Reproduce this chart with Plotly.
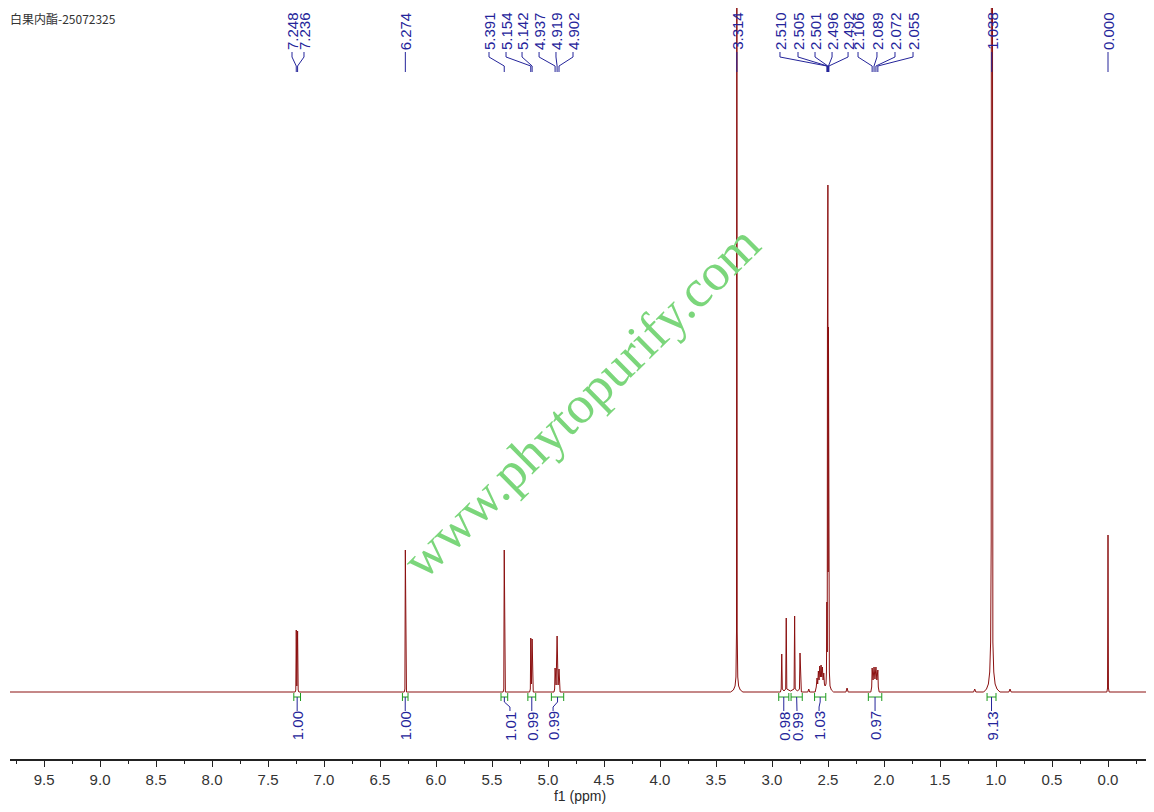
import plotly.graph_objects as go

# 1H NMR spectrum of bilobalide
title_text = "白果内酯-25072325"
watermark = "www.phytopurify.com"

# spectrum trace: chemical shift (ppm) and intensity, baseline = 0
spec_ppm = [
    9.804,
    7.258, 7.252, 7.248, 7.243, 7.236, 7.231, 7.225,
    6.284, 6.278, 6.274, 6.270, 6.264,
    5.401, 5.395, 5.391, 5.387, 5.381,
    5.164, 5.158, 5.154, 5.148, 5.142, 5.138, 5.132,
    4.947, 4.941, 4.937, 4.928, 4.919, 4.910, 4.902, 4.898, 4.892,
    3.370, 3.345, 3.330, 3.322, 3.317, 3.314, 3.311, 3.306, 3.298, 3.283, 3.260,
    2.925, 2.918, 2.913, 2.908, 2.893, 2.878, 2.873, 2.868, 2.835,
    2.803, 2.798, 2.793, 2.772, 2.755, 2.750, 2.745, 2.738,
    2.680, 2.672, 2.664,
    2.615, 2.605, 2.598, 2.592, 2.586, 2.580, 2.574, 2.568, 2.562, 2.556,
    2.550, 2.544, 2.538, 2.532, 2.526,
    2.518, 2.514, 2.510, 2.507, 2.505, 2.503, 2.501, 2.499, 2.496, 2.494,
    2.492, 2.488, 2.482, 2.470, 2.450,
    2.340, 2.330, 2.320,
    2.118, 2.110, 2.106, 2.098, 2.089, 2.081, 2.072, 2.064, 2.055, 2.051, 2.043,
    1.200, 1.190, 1.180,
    1.110, 1.085, 1.068, 1.056, 1.048, 1.043, 1.038, 1.033, 1.028, 1.020,
    1.008, 0.991, 0.965,
    0.885, 0.875, 0.865,
    0.010, 0.004, 0.000, -0.004, -0.010,
    -0.375,
]
spec_int = [
    0.0,
    0.0, 0.02, 0.62, 0.06, 0.61, 0.02, 0.0,
    0.0, 0.03, 1.42, 0.03, 0.0,
    0.0, 0.03, 1.42, 0.03, 0.0,
    0.0, 0.03, 0.54, 0.08, 0.53, 0.03, 0.0,
    0.0, 0.03, 0.24, 0.07, 0.56, 0.07, 0.23, 0.03, 0.0,
    0.0, 0.02, 0.06, 0.15, 0.6, 12.0, 0.6, 0.15, 0.06, 0.02, 0.0,
    0.0, 0.03, 0.38, 0.03, 0.01, 0.03, 0.74, 0.03, 0.01,
    0.03, 0.76, 0.03, 0.01, 0.03, 0.39, 0.03, 0.0,
    0.0, 0.03, 0.0,
    0.0, 0.05, 0.14, 0.08, 0.21, 0.12, 0.26, 0.15, 0.27, 0.15,
    0.25, 0.12, 0.19, 0.08, 0.06,
    0.08, 0.2, 0.9, 0.4, 3.65, 1.2, 5.07, 1.2, 3.65, 0.4,
    0.9, 0.2, 0.06, 0.02, 0.0,
    0.0, 0.04, 0.0,
    0.0, 0.05, 0.24, 0.12, 0.25, 0.13, 0.25, 0.12, 0.22, 0.05, 0.0,
    0.0, 0.03, 0.0,
    0.0, 0.03, 0.08, 0.2, 0.5, 1.5, 20.0, 1.5, 0.5, 0.2,
    0.08, 0.03, 0.0,
    0.0, 0.03, 0.0,
    0.0, 0.04, 1.57, 0.04, 0.0,
    0.0,
]

# peak picking labels (text, true shift, where the label text sits)
peak_text = ["7.248", "7.236", "6.274",
             "5.391", "5.154", "5.142", "4.937", "4.919", "4.902",
             "3.314",
             "2.510", "2.505", "2.501", "2.496", "2.492",
             "2.106", "2.089", "2.072", "2.055",
             "1.038", "0.000"]
peak_ppm = [7.248, 7.236, 6.274,
            5.391, 5.154, 5.142, 4.937, 4.919, 4.902,
            3.314,
            2.510, 2.505, 2.501, 2.496, 2.492,
            2.106, 2.089, 2.072, 2.055,
            1.038, 0.000]
label_ppm = [7.286, 7.179, 6.274,
             5.527, 5.375, 5.232, 5.080, 4.929, 4.777,
             3.314,
             2.929, 2.768, 2.616, 2.464, 2.321,
             2.232, 2.063, 1.902, 1.741,
             1.038, 0.000]

# integrals
int_start = [7.27, 6.30, 5.42, 5.18, 4.97, 2.94, 2.83, 2.62, 2.14, 1.08]
int_end = [7.21, 6.25, 5.36, 5.11, 4.86, 2.85, 2.73, 2.52, 2.02, 1.00]
int_value = ["1.00", "1.00", "1.01", "0.99", "0.99", "0.98", "0.99", "1.03", "0.97", "9.13"]
int_label_ppm = [7.24, 6.275, 5.34, 5.145, 4.955, 2.895, 2.777, 2.58, 2.08, 1.04]

xticks = [9.5, 9.0, 8.5, 8.0, 7.5, 7.0, 6.5, 6.0, 5.5, 5.0,
          4.5, 4.0, 3.5, 3.0, 2.5, 2.0, 1.5, 1.0, 0.5, 0.0]

RED = "#8b1010"
BLUE = "#24249a"
GREEN = "#1c9a1c"
NUM_FONT = "Liberation Sans, Arial, sans-serif"

fig = go.Figure()

fig.add_trace(go.Scatter(x=spec_ppm, y=spec_int, mode="lines",
                         line=dict(color=RED, width=1), hoverinfo="skip"))

# leader lines from peak labels down to the peaks
lx, ly = [], []
for p, l in zip(peak_ppm, label_ppm):
    lx += [l, l, p, p, None]
    ly += [6.40, 6.35, 6.26, 6.20, None]
fig.add_trace(go.Scatter(x=lx, y=ly, mode="lines",
                         line=dict(color=BLUE, width=1), hoverinfo="skip"))

# integral brackets
gx, gy = [], []
for a, b in zip(int_start, int_end):
    gx += [a, a, None, a, b, None, b, b, None]
    gy += [-0.01, -0.09, None, -0.05, -0.05, None, -0.01, -0.09, None]
fig.add_trace(go.Scatter(x=gx, y=gy, mode="lines",
                         line=dict(color=GREEN, width=1), hoverinfo="skip"))

# leaders from the brackets to the integral values
bx, by = [], []
for a, b, l in zip(int_start, int_end, int_label_ppm):
    c = (a + b) / 2
    bx += [c, c, l, l, None]
    by += [-0.05, -0.10, -0.15, -0.19, None]
fig.add_trace(go.Scatter(x=bx, y=by, mode="lines",
                         line=dict(color=BLUE, width=1), hoverinfo="skip"))

for t, l in zip(peak_text, label_ppm):
    fig.add_annotation(x=l, y=6.61, text=t, textangle=-90, showarrow=False,
                       xanchor="center", yanchor="middle",
                       font=dict(family=NUM_FONT, size=15, color=BLUE))

for t, l in zip(int_value, int_label_ppm):
    fig.add_annotation(x=l, y=-0.34, text=t, textangle=-90, showarrow=False,
                       xanchor="center", yanchor="middle",
                       font=dict(family=NUM_FONT, size=15, color=BLUE))

fig.add_annotation(xref="paper", x=-0.002, y=6.74, text=title_text,
                   showarrow=False, xanchor="left", yanchor="middle",
                   font=dict(family="Noto Sans CJK SC", size=12, color="#333333"))

fig.add_annotation(x=4.71, y=2.90, text=watermark, textangle=-44.5, showarrow=False,
                   font=dict(family="Liberation Serif, Times New Roman, serif",
                             size=53, color="#7bd67b"))

# the page body adds an 8 px offset, so the margins are shifted to compensate
fig.update_layout(
    width=1154, height=812,
    margin=dict(l=2, r=12, t=0, b=61),
    plot_bgcolor="white", paper_bgcolor="white",
    showlegend=False,
    xaxis=dict(
        range=[9.804, -0.375],
        tickvals=xticks, tickformat=".1f",
        showline=True, linecolor="#222222", linewidth=1.5,
        ticks="outside", ticklen=6, tickcolor="#222222", tickwidth=1.2,
        minor=dict(dtick=0.25, tick0=0, ticks="outside", ticklen=3, tickcolor="#222222"),
        showgrid=False, zeroline=False,
        tickfont=dict(family=NUM_FONT, size=15, color="#333333"),
        title=dict(text="f1 (ppm)", standoff=0,
                   font=dict(family=NUM_FONT, size=14, color="#2a2a2a")),
    ),
    yaxis=dict(range=[-0.67, 6.84], visible=False, fixedrange=True),
)

fig.write_html("out.html")
